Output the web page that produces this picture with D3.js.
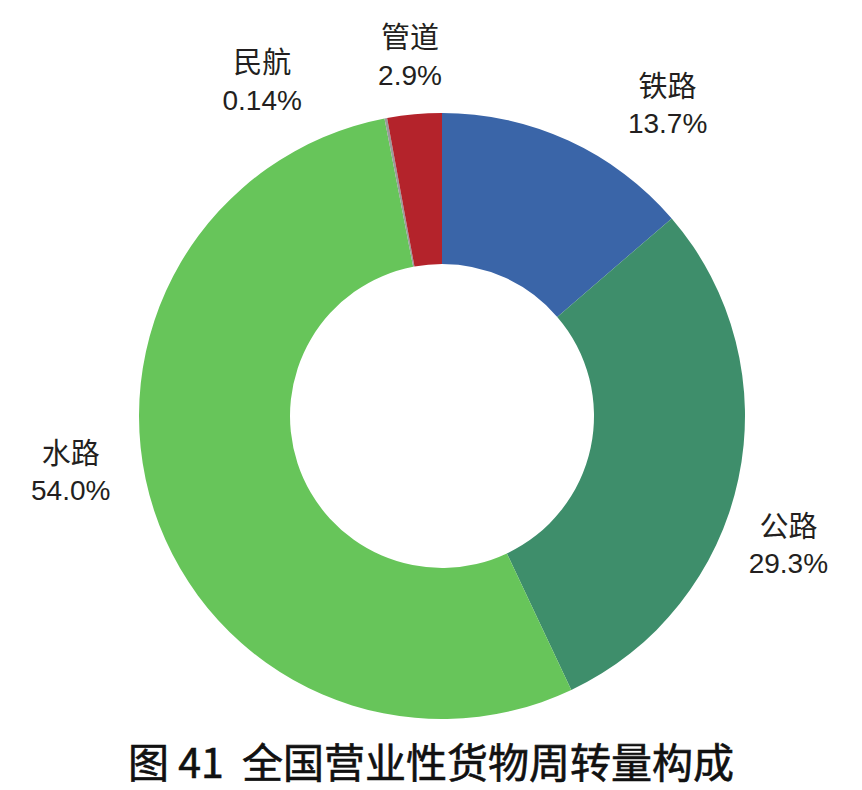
<!DOCTYPE html>
<html>
<head>
<meta charset="utf-8">
<script src="https://cdn.jsdelivr.net/npm/d3@7"></script>
<style>
  body { margin: 0; background: #fff; }
  text { font-family: "Liberation Sans", "Noto Sans CJK SC", sans-serif; fill: #231f20; }
</style>
</head>
<body>
<div id="chart"></div>
<script>
// data
var categories = ["铁路", "公路", "水路", "民航", "管道"];
var shares = [13.7, 29.3, 54.0, 0.14, 2.9];
var shareLabels = ["13.7%", "29.3%", "54.0%", "0.14%", "2.9%"];
var colors = ["#3a65a8", "#3e8e6b", "#67c55a", "#9a9a9a", "#b4232b"];
var title = "图 41  全国营业性货物周转量构成";

// label angle nudges (degrees) + small pixel shifts so labels sit like the original
var labelNudge = [11.5, 8, 9, -17, 0];
var labelShift = [[5, -13], [-5, -3], [-2, -7], [-6, -7], [2, 9]];

var width = 862, height = 790;
var cx = 442, cy = 416;
var outerR = 303, innerR = 152, labelR = 374;

var svg = d3.select("#chart")
  .append("svg")
    .attr("width", width)
    .attr("height", height);

var g = svg.append("g")
    .attr("transform", "translate(" + cx + "," + cy + ")");

var pie = d3.pie().sort(null).value(function(d) { return d; });
var arcs = pie(shares);

var arc = d3.arc().innerRadius(innerR).outerRadius(outerR);

g.selectAll("path")
  .data(arcs)
  .enter()
  .append("path")
    .attr("d", arc)
    .style("fill", function(d, i) { return colors[i]; });

// labels
var lbl = g.selectAll(".lbl")
  .data(arcs)
  .enter()
  .append("text")
    .attr("class", "lbl")
    .attr("text-anchor", "middle")
    .style("font-size", "28px")
    .attr("transform", function(d, i) {
      var a = (d.startAngle + d.endAngle) / 2 + labelNudge[i] * Math.PI / 180;
      var x = labelR * Math.sin(a) + labelShift[i][0];
      var y = -labelR * Math.cos(a) + labelShift[i][1];
      return "translate(" + x + "," + y + ")";
    });

lbl.append("tspan")
    .attr("x", 0)
    .attr("dy", "-0.15em")
    .style("font-family", "'Noto Sans CJK SC', sans-serif")
    .style("font-size", "29px")
    .text(function(d, i) { return categories[i]; });

lbl.append("tspan")
    .attr("x", 0)
    .attr("dy", "1.3em")
    .text(function(d, i) { return shareLabels[i]; });

// title
svg.append("text")
    .attr("x", 431)
    .attr("y", 778)
    .attr("text-anchor", "middle")
    .style("white-space", "pre")
    .style("font-family", "'Noto Sans CJK SC', sans-serif")
    .style("font-size", "41px")
    .style("font-weight", "400")
    .style("fill", "#111")
    .style("stroke", "#111")
    .style("stroke-width", "0.6px")
    .text(title);
</script>
</body>
</html>
